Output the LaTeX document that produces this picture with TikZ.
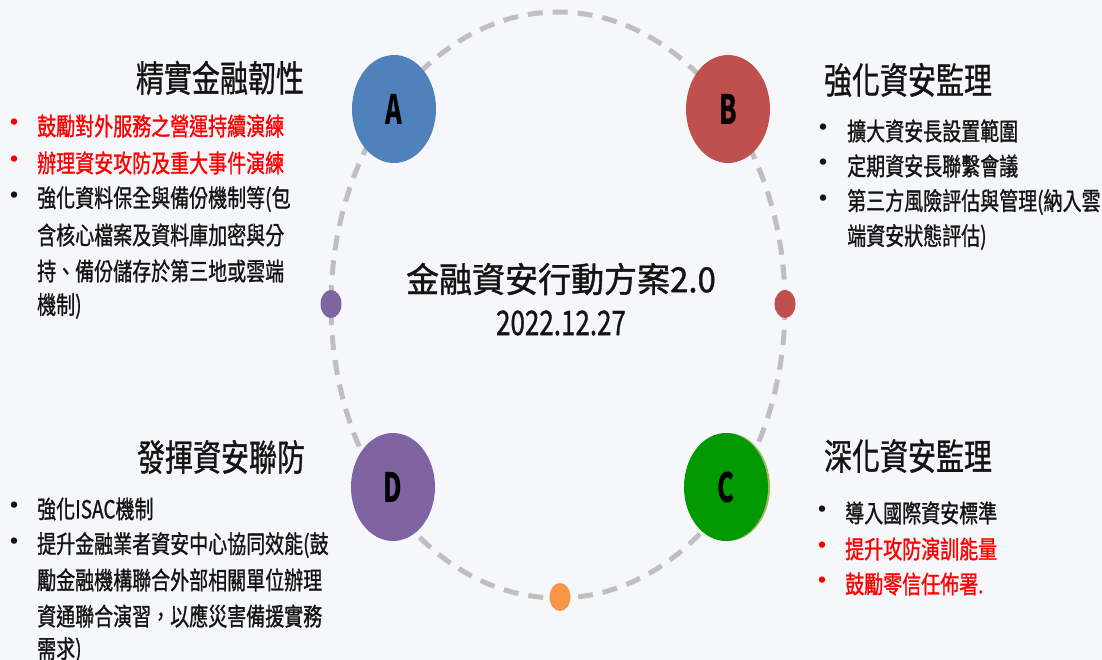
\documentclass[tikz,border=0pt]{standalone}
\usepackage{fontspec}
\usepackage{graphicx}
\setmainfont{Noto Sans CJK TC}
\newfontfamily\medfont{Noto Sans CJK TC}[FakeBold=1.2]
\newfontfamily\headfont{Noto Sans CJK TC}[FakeBold=1.0]
\usetikzlibrary{shapes.geometric}
\definecolor{cA}{HTML}{4F81BD}
\definecolor{cB}{HTML}{C0504D}
\definecolor{cC}{HTML}{009900}
\definecolor{cCe}{HTML}{9BBB59}
\definecolor{cD}{HTML}{8064A2}
\definecolor{cO}{HTML}{F79646}
\definecolor{ringc}{HTML}{BFBFBF}
\definecolor{bgc}{HTML}{F6F7FA}
\definecolor{hot}{HTML}{FF0000}
\definecolor{ink}{HTML}{141414}
\newcommand\vs[1]{\scalebox{1}[1.3]{#1}}
\newcommand\hl[1]{\scalebox{0.85}[1.35]{#1}}
\tikzset{
  headtxt/.style={anchor=center, inner sep=0pt, text=ink, font=\headfont\fontsize{28}{28}\selectfont},
  itemtxt/.style={anchor=west, inner sep=0pt, text=ink, font=\medfont\fontsize{19}{19}\selectfont},
  redtxt/.style={itemtxt, text=hot},
  bul/.style={anchor=center, inner sep=0pt, text=ink, font=\fontsize{30}{30}\selectfont},
  redbul/.style={bul, text=hot},
  hub/.style={ellipse, minimum width=84pt, minimum height=108pt, inner sep=0pt, text=black, font=\bfseries\fontsize{30}{30}\selectfont},
  pip/.style={ellipse, minimum width=21pt, minimum height=28pt, inner sep=0pt},
  ringline/.style={draw=ringc, line width=5pt, dash pattern=on 15pt off 10pt}
}
\begin{document}
\begin{tikzpicture}[x=1pt, y=-1pt]
\useasboundingbox (0,0) rectangle (1102,660);
\fill[bgc] (0,0) rectangle (1102,660);
% dashed ring
\coordinate (ctr) at (558,305);
\draw[ringline] (ctr) ellipse [x radius=227, y radius=293];
% hubs
\fill[cCe] (728,487) ellipse [x radius=42, y radius=54];
\node[hub, fill=cA] (A) at (394,109) {\raisebox{-3pt}{\hl{A}}};
\node[hub, fill=cB] (B) at (728,109) {\raisebox{-3pt}{\hl{B}}};
\node[hub, fill=cC] (C) at (726,487) {\raisebox{-3pt}{\hl{C}}};
\node[hub, fill=cD] (D) at (393,487) {\raisebox{-3pt}{\hl{D}}};
\node[pip, fill=cD] (p1) at (331,304) {};
\node[pip, fill=cB] (p2) at (785,304) {};
\node[pip, fill=cO] (p3) at (560,597) {};
% centre
\node[anchor=center, inner sep=0pt, text=ink, font=\medfont\fontsize{33}{33}\selectfont] (ttl) at (561,279) {\scalebox{1}[1.05]{金融資安行動方案2.0}};
\node[anchor=center, inner sep=0pt, text=ink, font=\medfont\fontsize{26}{26}\selectfont] (date) at (561,323) {\vs{2022.12.27}};
% top-left
\node[headtxt] (h1) at (220,78) {\vs{精實金融韌性}};
\node[redbul] (b11) at (14,126) {•};
\node[redtxt] (t11) at (37,126) {\vs{鼓勵對外服務之營運持續演練}};
\node[redbul] (b12) at (14,163) {•};
\node[redtxt] (t12) at (37,163) {\vs{辦理資安攻防及重大事件演練}};
\node[bul] (b13) at (14,199) {•};
\node[itemtxt] (t13) at (37,199) {\vs{強化資料保全與備份機制等(包}};
\node[itemtxt] (t14) at (37,235) {\vs{含核心檔案及資料庫加密與分}};
\node[itemtxt] (t15) at (37,271) {\vs{持、備份儲存於第三地或雲端}};
\node[itemtxt] (t16) at (37,306) {\vs{機制)}};
% top-right
\node[headtxt] (h2) at (908,80) {\vs{強化資安監理}};
\node[bul] (b21) at (823,131) {•};
\node[itemtxt] (t21) at (847,131) {\vs{擴大資安長設置範圍}};
\node[bul] (b22) at (823,166) {•};
\node[itemtxt] (t22) at (847,166) {\vs{定期資安長聯繫會議}};
\node[bul] (b23) at (823,202) {•};
\node[itemtxt] (t23) at (847,202) {\vs{第三方風險評估與管理(納入雲}};
\node[itemtxt] (t24) at (847,237) {\vs{端資安狀態評估)}};
% bottom-left
\node[headtxt] (h3) at (221,457) {\vs{發揮資安聯防}};
\node[bul] (b31) at (14,509) {•};
\node[itemtxt] (t31) at (37,509) {\vs{強化ISAC機制}};
\node[bul] (b32) at (14,545) {•};
\node[itemtxt] (t32) at (37,545) {\vs{提升金融業者資安中心協同效能(鼓}};
\node[itemtxt] (t33) at (37,580) {\vs{勵金融機構聯合外部相關單位辦理}};
\node[itemtxt] (t34) at (37,616) {\vs{資通聯合演習，以應災害備援實務}};
\node[itemtxt] (t35) at (37,650) {\vs{需求)}};
% bottom-right
\node[headtxt] (h4) at (908,456) {\vs{深化資安監理}};
\node[bul] (b41) at (822,513) {•};
\node[itemtxt] (t41) at (845,513) {\vs{導入國際資安標準}};
\node[redbul] (b42) at (822,549) {•};
\node[redtxt] (t42) at (845,549) {\vs{提升攻防演訓能量}};
\node[redbul] (b43) at (822,584) {•};
\node[redtxt] (t43) at (845,584) {\vs{鼓勵零信任佈署.}};
\end{tikzpicture}
\end{document}
